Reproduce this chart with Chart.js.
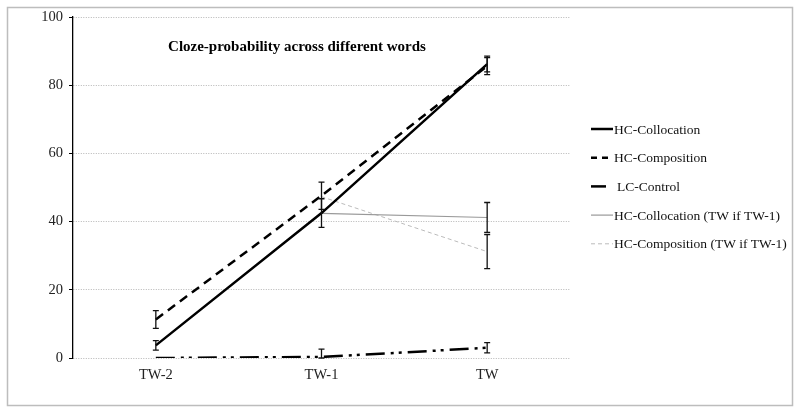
<!DOCTYPE html>
<html>
<head>
<meta charset="utf-8">
<script src="https://cdn.jsdelivr.net/npm/chart.js@4.4.0/dist/chart.umd.min.js"></script>
<style>
  html, body { margin: 0; padding: 0; background: #fff; }
  #wrap { width: 800px; height: 412px; }
</style>
</head>
<body>
<div id="wrap"><canvas id="cloze-chart" width="800" height="412"></canvas></div>
<script>
// Categories and values
const words = ['TW-2', 'TW-1', 'TW'];

const hcCollocation = [3.7, 42.5, 86.2];
const hcCollocationErr = [1.4, 4.2, 2.3];

const hcComposition = [11.3, 47.6, 85.6];
const hcCompositionErr = [2.6, 4.0, 2.5];

const lcControl = [0, 0.3, 3.0];
const lcControlErr = [null, 2.3, 1.5];

const hcCollocationIf = [null, 42.4, 41.2];
const hcCollocationIfErr = [null, null, 4.4];

const hcCompositionIf = [null, 47.3, 31.2];
const hcCompositionIfErr = [null, null, 5.0];

const yMin = 0;
const yMax = 100;
const yStep = 20;

const SERIF = "'Liberation Serif', 'Times New Roman', serif";

/**
 * Draws the vertical error bars for every dataset that has an errors array
 */
const errorBarPlugin = {
    id: 'errorBars',
    afterDatasetsDraw(chart) {
        const ctx = chart.ctx;
        const xScale = chart.scales.x;
        const yScale = chart.scales.y;
        ctx.save();
        ctx.strokeStyle = '#111';
        ctx.lineWidth = 1.3;
        ctx.setLineDash([]);
        chart.data.datasets.forEach(ds => {
            if (!ds.errors) return;
            ds.data.forEach((v, i) => {
                const e = ds.errors[i];
                if (v === null || e === null || e === undefined) return;
                const x = xScale.getPixelForValue(i);
                const top = yScale.getPixelForValue(v + e);
                const bottom = yScale.getPixelForValue(Math.max(v - e, yMin));
                ctx.beginPath();
                ctx.moveTo(x, top);
                ctx.lineTo(x, bottom);
                ctx.moveTo(x - 3, top);
                ctx.lineTo(x + 3, top);
                ctx.moveTo(x - 3, bottom);
                ctx.lineTo(x + 3, bottom);
                ctx.stroke();
            });
        });
        ctx.restore();
    }
};

/**
 * Frame, title and the line-sample legend on the right
 */
const decorPlugin = {
    id: 'decor',
    afterDraw(chart) {
        const ctx = chart.ctx;
        ctx.save();

        // outer frame
        ctx.strokeStyle = '#bdbdbd';
        ctx.lineWidth = 1.5;
        ctx.setLineDash([]);
        ctx.strokeRect(7.5, 7.5, 785, 398);

        // title
        ctx.fillStyle = '#000';
        ctx.font = 'bold 15px ' + SERIF;
        ctx.textAlign = 'center';
        ctx.textBaseline = 'middle';
        ctx.fillText('Cloze-probability across different words', 297, 47);

        // legend
        ctx.font = '13.5px ' + SERIF;
        ctx.textAlign = 'left';
        chart.data.datasets.forEach((ds, i) => {
            const y = 129 + i * 28.7;
            ctx.strokeStyle = ds.borderColor;
            ctx.lineWidth = ds.borderWidth;
            ctx.setLineDash(ds.legendDash || ds.borderDash || []);
            ctx.beginPath();
            ctx.moveTo(591, y);
            ctx.lineTo(ds.legendEnd || 613, y);
            ctx.stroke();
            ctx.fillStyle = '#111';
            ctx.fillText(ds.label, ds.legendText || 614, y + 1);
        });

        ctx.restore();
    }
};

const chartElement = document.getElementById('cloze-chart');

new Chart(chartElement, {
    type: 'line',
    data: {
        labels: words,
        datasets: [
            {
                label: 'HC-Collocation',
                data: hcCollocation,
                errors: hcCollocationErr,
                borderColor: '#000',
                borderWidth: 2.5
            },
            {
                label: 'HC-Composition',
                data: hcComposition,
                errors: hcCompositionErr,
                borderColor: '#000',
                borderWidth: 2.5,
                borderDash: [9, 6],
                legendDash: [6, 5]
            },
            {
                label: 'LC-Control',
                data: lcControl,
                errors: lcControlErr,
                borderColor: '#000',
                borderWidth: 2.5,
                borderDash: [19, 6, 3, 5, 3, 6],
                legendEnd: 606,
                legendText: 617
            },
            {
                label: 'HC-Collocation (TW if TW-1)',
                data: hcCollocationIf,
                errors: hcCollocationIfErr,
                borderColor: '#999',
                borderWidth: 1.2
            },
            {
                label: 'HC-Composition (TW if TW-1)',
                data: hcCompositionIf,
                errors: hcCompositionIfErr,
                borderColor: '#bbb',
                borderWidth: 1,
                borderDash: [4, 3]
            }
        ]
    },
    options: {
        responsive: false,
        animation: false,
        spanGaps: false,
        elements: {
            line: { tension: 0, borderCapStyle: 'butt', fill: false },
            point: { radius: 0, hoverRadius: 0 }
        },
        layout: {
            padding: { top: 17, right: 230, left: 0, bottom: 0 }
        },
        scales: {
            x: {
                offset: true,
                grid: { display: false, drawTicks: false },
                border: { display: false },
                ticks: {
                    color: '#222',
                    padding: 8,
                    font: { family: SERIF, size: 14.5 }
                },
                afterFit(scale) { scale.height = 54; }
            },
            y: {
                min: yMin,
                max: yMax,
                ticks: {
                    stepSize: yStep,
                    color: '#222',
                    padding: 6,
                    font: { family: SERIF, size: 14.5 }
                },
                grid: {
                    color: '#b5b5b5',
                    lineWidth: 1,
                    tickColor: '#000',
                    tickLength: 4
                },
                border: {
                    display: true,
                    color: '#000',
                    width: 1.3,
                    dash: [1, 1.5]
                },
                afterFit(scale) { scale.width = 73; }
            }
        },
        plugins: {
            legend: { display: false },
            title: { display: false },
            tooltip: { enabled: false }
        }
    },
    plugins: [errorBarPlugin, decorPlugin]
});
</script>
</body>
</html>
